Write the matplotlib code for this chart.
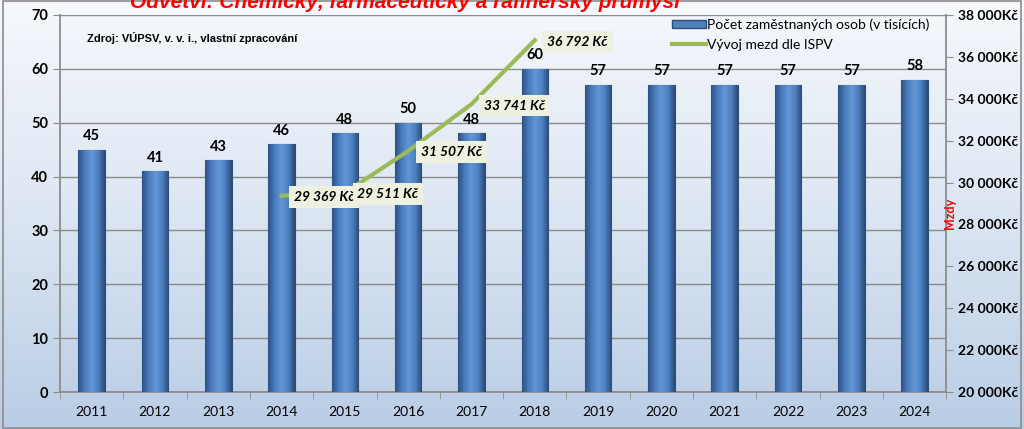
import numpy as np
import matplotlib.pyplot as plt
from matplotlib.ticker import FuncFormatter, MultipleLocator, FixedLocator
from matplotlib.lines import Line2D
from matplotlib.patches import Patch, Rectangle
from matplotlib.colors import LinearSegmentedColormap

years = ["2011", "2012", "2013", "2014", "2015", "2016", "2017",
         "2018", "2019", "2020", "2021", "2022", "2023", "2024"]
employees = [45, 41, 43, 46, 48, 50, 48, 60, 57, 57, 57, 57, 57, 58]

wage_years = ["2014", "2015", "2016", "2017", "2018"]
wages = [29369, 29511, 31507, 33741, 36792]

title = "Odvětví: Chemický, farmaceutický a rafinerský průmysl"
source = "Zdroj: VÚPSV, v. v. i., vlastní zpracování"

BAR = "#4F81BD"
GREEN = "#9BBB59"


def kc(v, pos=None):
    return f"{int(v):,}".replace(",", " ") + "Kč"


def main():
    plt.rcParams['font.family'] = ['Lato', 'DejaVu Sans']
    fig = plt.figure(figsize=(10.24, 4.29), dpi=100)

    # background gradient for the whole figure
    bg = fig.add_axes([0, 0, 1, 1], zorder=-10)
    grad = np.linspace(0, 1, 256).reshape(-1, 1)
    cmap = LinearSegmentedColormap.from_list("bg", ["#F6F8FC", "#DCE6F2", "#B9CDE5"])
    bg.imshow(grad, aspect="auto", cmap=cmap, extent=[0, 1, 0, 1])
    bg.add_patch(Rectangle((0.003, 0.003), 0.994, 0.994, fill=False,
                           edgecolor="#8C8C8C", lw=1.2, transform=bg.transAxes))
    bg.axis("off")

    ax = fig.add_axes([0.0586, 0.0862, 0.8655, 0.879])
    ax.patch.set_alpha(0)
    x = np.arange(len(years))

    bars = ax.bar(x, employees, width=0.42, color=BAR, edgecolor="#2C4D75",
                  linewidth=0.8, zorder=3)
    # cylinder-like shading on the bars
    shade = LinearSegmentedColormap.from_list(
        "bar", ["#2E5286", "#4A7CBD", "#6296D6", "#4F82C2", "#2B4B78"])
    hgrad = np.linspace(0, 1, 64).reshape(1, -1)
    for rect in bars:
        x0, w, h = rect.get_x(), rect.get_width(), rect.get_height()
        im = ax.imshow(hgrad, cmap=shade, aspect="auto", zorder=3.5,
                       extent=[x0, x0 + w, 0, h], interpolation="bicubic")
        im.set_clip_path(rect)
    ax.set_xlim(-0.5, len(years) - 0.5)
    ax.set_ylim(0, 70)

    for rect, v in zip(bars, employees):
        ax.text(rect.get_x() + rect.get_width() / 2, v + 1.2, str(v),
                ha="center", va="bottom", fontsize=10.5, fontweight="bold", zorder=6)

    ax.yaxis.set_major_locator(MultipleLocator(10))
    ax.grid(axis="y", color="#8C8C8C", lw=1.0, zorder=0)
    ax.set_xticks(x)
    ax.set_xticklabels(years, fontsize=10)
    ax.xaxis.set_minor_locator(FixedLocator(np.arange(-0.5, len(years), 1)))
    ax.tick_params(axis="x", which="major", length=0, pad=10)
    ax.tick_params(axis="x", which="minor", length=5, color="#8C8C8C")
    ax.tick_params(axis="y", length=5, color="#8C8C8C", labelsize=10.5)
    for lab in ax.get_yticklabels():
        lab.set_fontweight("bold")
    for s in ["left", "bottom", "right"]:
        ax.spines[s].set_color("#8C8C8C")
        ax.spines[s].set_linewidth(1.3)
    ax.spines["top"].set_visible(False)

    ax.text(0.03, 0.955, source, transform=ax.transAxes, fontsize=8,
            fontweight="bold", family=["Liberation Sans", "DejaVu Sans"], va="top")

    ax2 = ax.twinx()
    ax2.set_ylim(20000, 38000)
    ax2.yaxis.set_major_locator(MultipleLocator(2000))
    ax2.yaxis.set_major_formatter(FuncFormatter(kc))
    ax2.tick_params(axis="y", length=5, color="#8C8C8C", labelsize=10)
    for lab in ax2.get_yticklabels():
        lab.set_fontweight("bold")
    for s in ax2.spines.values():
        s.set_visible(False)
    ax2.set_ylabel("Mzdy", color="red", fontsize=9, fontweight="bold")
    ax2.yaxis.set_label_coords(0.997, 0.475)

    wx = [years.index(y) for y in wage_years]
    ax2.plot(wx, wages, color=GREEN, lw=3, zorder=4)
    for xi, w in zip(wx, wages):
        ax2.annotate(kc(w).replace("Kč", " Kč"), (xi, w), xytext=(9, -1),
                     textcoords="offset points", ha="left", va="center",
                     fontsize=10, fontweight="bold", fontstyle="italic",
                     bbox=dict(boxstyle="square,pad=0.35", fc="#EEF1E0", ec="none"),
                     zorder=7)

    handles = [Patch(facecolor=BAR, edgecolor="#2C4D75"),
               Line2D([0], [0], color=GREEN, lw=3)]
    ax2.legend(handles, ["Počet zaměstnaných osob (v tisících)", "Vývoj mezd dle ISPV"],
               loc="upper right", bbox_to_anchor=(0.995, 1.025), frameon=False,
               fontsize=10, handlelength=2.4, handleheight=0.5,
               handletextpad=0.1, labelspacing=0.6)

    fig.text(0.395, 0.995, title, ha="center", va="center", color="red",
             fontsize=15, fontweight="bold", fontstyle="italic",
             family=["Liberation Sans", "DejaVu Sans"])

    fig.savefig("out.png", dpi=100)


if __name__ == "__main__":
    main()
